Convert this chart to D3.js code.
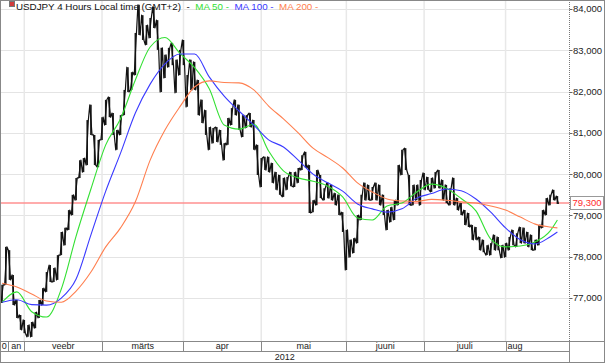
<!DOCTYPE html>
<html><head><meta charset="utf-8">
<script src="https://cdn.jsdelivr.net/npm/d3@7"></script>
<style>body{margin:0;background:#fff}svg{display:block}text{font-family:"Liberation Sans",Arial,sans-serif}</style>
</head><body><svg id="c" width="605" height="363"></svg>
<script>
// ---- data ----
const monthLabels = ["0","an","veebr","märts","apr","mai","juuni","juuli","aug"];
const monthStart  = [-6.56,-4.27,0,21,43,64,87,108,130]; // trading-day index
const axisEnd = 147.27;
const yearLabel = "2012";
const yTicks = [77,78,79,80,81,82,83,84];
const lastPrice = 79.3;
const firstDay = -6;
const priceHigh = [77.32,78.24,78.16,77.56,76.95,76.59,76.47,76.35,76.42,76.66,76.95,77.24,77.63,77.80,77.73,78.04,78.60,78.70,79.13,79.50,79.91,80.34,80.39,81.31,81.68,80.95,80.83,81.38,81.80,81.87,81.48,81.07,81.43,82.04,82.59,82.47,83.42,84.10,83.85,83.61,83.78,84.05,83.73,83.06,82.89,83.06,83.18,82.77,83.01,83.25,82.40,82.77,82.72,82.28,81.80,81.55,81.14,81.12,81.14,81.07,80.75,81.36,81.60,81.80,81.68,81.43,81.43,81.48,81.31,80.71,80.39,80.42,80.42,80.27,80.05,79.98,79.91,79.93,80.05,80.05,80.15,80.46,80.54,80.22,79.37,80.10,79.98,79.66,79.79,79.74,79.54,79.50,79.08,78.65,78.41,78.45,79.01,79.50,79.79,79.74,79.69,79.79,79.74,79.50,79.13,79.20,79.37,80.22,80.59,80.63,79.98,79.74,79.74,79.86,80.03,79.93,79.91,80.05,80.10,79.86,79.74,79.66,79.91,79.42,79.30,79.13,79.06,78.77,78.72,78.48,78.41,78.28,78.33,78.53,78.48,78.28,78.33,78.48,78.65,78.57,78.72,78.70,78.60,78.53,78.41,78.77,79.13,79.42,79.50,79.62,79.47];
const priceLow  = [76.88,77.32,77.44,76.83,76.52,76.23,76.15,76.06,76.06,76.27,76.52,76.83,77.15,77.39,77.39,77.44,78.04,78.28,78.65,79.01,79.37,79.91,80.05,80.22,80.95,80.22,80.17,80.83,81.19,81.38,80.95,80.59,80.95,81.43,81.99,82.04,82.40,83.37,83.25,83.13,83.30,83.54,83.01,81.99,82.33,82.59,82.64,81.97,82.40,82.64,81.63,82.04,82.04,81.43,81.24,80.95,80.59,80.75,80.78,80.71,80.34,80.71,81.19,81.43,81.07,80.90,81.12,81.14,80.59,79.98,79.69,80.10,80.05,79.79,79.62,79.50,79.45,79.62,79.71,79.69,79.79,80.10,80.15,79.06,79.08,79.25,79.42,79.37,79.42,79.37,79.25,79.01,78.60,77.68,77.99,78.09,78.33,78.89,79.37,79.37,79.37,79.37,79.25,79.01,78.65,78.84,78.89,79.25,79.98,80.10,79.25,79.25,79.37,79.25,79.62,79.62,79.57,79.66,79.66,79.37,79.30,79.25,79.25,79.13,79.01,78.77,78.72,78.41,78.41,78.16,78.11,78.04,78.04,78.16,78.16,77.97,77.99,78.16,78.28,78.24,78.33,78.33,78.24,78.16,78.16,78.28,78.70,79.01,79.25,79.37,79.28];
const maDays = [-6,-2,2,6,10,14,18,22,26,30,34,38,42,46,50,54,58,62,66,70,74,78,82,86,90,94,98,102,106,110,114,118,122,126,130,134,138,142,144];
const ma50  = [76.90,77.15,76.67,76.54,77.22,78.50,79.64,80.71,81.34,82.28,83.08,83.31,82.93,82.58,82.06,81.19,81.09,81.21,80.56,80.08,79.91,79.83,79.71,79.45,78.94,78.89,79.23,79.30,79.57,79.76,79.66,79.41,79.11,78.43,78.24,78.26,78.36,78.62,78.89];
const ma100 = [76.90,76.96,76.84,76.83,77.00,77.46,78.53,79.59,80.51,81.48,82.18,82.67,82.91,82.91,82.35,81.89,81.53,81.19,80.83,80.66,80.34,80.00,79.79,79.59,79.28,79.16,79.08,79.16,79.42,79.53,79.64,79.60,79.40,79.08,78.70,78.41,78.31,78.48,78.60];
const ma200 = [77.36,77.27,77.10,76.93,76.90,77.17,77.63,78.24,78.70,79.33,80.34,81.07,81.63,82.11,82.26,82.22,82.21,82.04,81.65,81.34,81.00,80.63,80.40,80.15,79.79,79.57,79.40,79.35,79.34,79.39,79.37,79.33,79.30,79.23,79.13,78.96,78.79,78.72,78.70];
const legendTitle = "USDJPY 4 Hours Local time (GMT+2)";
const maNames = ["MA 50","MA 100","MA 200"];

// ---- layout ----
const W = 605, H = 363, plotR = 569.5, plotB = 341, rowB = 351.5;
const svg = d3.select("#c");
const x = d3.scaleLinear().domain([monthStart[0], axisEnd]).range([0, plotR]);
const y = d3.scaleLinear().domain([75.96, 84.218]).range([plotB, 0]);
const loc = d3.formatLocale({decimal:",", thousands:" ", grouping:[3], currency:["",""]});
const fmt = loc.format(".3f");
const maColors = ["#33e033","#3a3aff","#ff7f4f"];

svg.append("rect").attr("width",W).attr("height",H).attr("fill","#fff");

// grid
svg.append("g").selectAll("line").data(yTicks).join("line")
  .attr("x1",0).attr("x2",plotR).attr("y1",d=>Math.round(y(d))+0.5).attr("y2",d=>Math.round(y(d))+0.5)
  .attr("stroke","#e4e4e4").attr("stroke-width",1);
svg.append("g").selectAll("line").data(monthStart.slice(2)).join("line")
  .attr("x1",d=>x(d)).attr("x2",d=>x(d)).attr("y1",0).attr("y2",plotB)
  .attr("stroke","#e8e8e8").attr("stroke-width",1.5);

// last price line
svg.append("line").attr("x1",0).attr("x2",plotR).attr("y1",y(lastPrice)).attr("y2",y(lastPrice))
  .attr("stroke","#ff9090").attr("stroke-width",1.5);

// price: daily high-low bars plus zigzag
const days = priceHigh.map((h,i)=>firstDay+i);
svg.append("g").selectAll("line").data(days).join("line")
  .attr("x1",d=>x(d)).attr("x2",d=>x(d))
  .attr("y1",(d,i)=>y(priceHigh[i])).attr("y2",(d,i)=>y(priceLow[i]))
  .attr("stroke","#1a1a1a").attr("stroke-width",1.6);
const mid = i => (priceHigh[i]+priceLow[i])/2;
const pts = [];
priceHigh.forEach((h,i)=>{
  const d = firstDay + i;
  const rising = i < priceHigh.length-1 ? mid(i+1) >= mid(i) : mid(i) >= mid(i-1);
  const a = rising ? priceLow[i] : h, b = rising ? h : priceLow[i];
  pts.push([d-0.3,a],[d+0.3,b]);
});
svg.append("path").attr("d", d3.line().x(p=>x(p[0])).y(p=>y(p[1]))(pts))
  .attr("fill","none").attr("stroke","#111").attr("stroke-width",1.2).attr("stroke-linejoin","round");

// moving averages
[ma50, ma100, ma200].forEach((arr,k)=>{
  svg.append("path")
    .attr("d", d3.line().curve(d3.curveMonotoneX).x((v,i)=>x(maDays[i])).y(v=>y(v))(arr))
    .attr("fill","none").attr("stroke",maColors[k]).attr("stroke-width",1.1);
});

// right axis
svg.append("line").attr("x1",plotR).attr("x2",plotR).attr("y1",0).attr("y2",H)
  .attr("stroke","#777").attr("stroke-dasharray","1,1");
const ax = svg.append("g");
ax.selectAll("line").data(yTicks).join("line")
  .attr("x1",plotR).attr("x2",plotR+3).attr("y1",d=>Math.round(y(d))+0.5).attr("y2",d=>Math.round(y(d))+0.5)
  .attr("stroke","#666");
ax.selectAll("text").data(yTicks).join("text")
  .attr("x",573).attr("y",d=>y(d)).attr("dy","0.35em")
  .attr("font-size",9.5).attr("fill","#222").text(d=>fmt(d));
// last price box
const ly = y(lastPrice);
svg.append("rect").attr("x",570.5).attr("y",Math.round(ly)-6.5).attr("width",33).attr("height",13)
  .attr("fill","#fff").attr("stroke","#999");
svg.append("text").attr("x",572.5).attr("y",ly).attr("dy","0.35em").attr("font-size",9.5)
  .attr("fill","#ff2a2a").text(fmt(lastPrice));

// bottom band
const band = svg.append("g");
band.append("rect").attr("x",0).attr("y",plotB).attr("width",W).attr("height",H-plotB).attr("fill","#fff");
band.append("line").attr("x1",0).attr("x2",W).attr("y1",plotB+0.5).attr("y2",plotB+0.5).attr("stroke","#888");
band.append("line").attr("x1",0).attr("x2",plotR).attr("y1",rowB).attr("y2",rowB).attr("stroke","#888");
band.append("line").attr("x1",plotR).attr("x2",plotR).attr("y1",plotB).attr("y2",H).attr("stroke","#888");
band.selectAll(".sep").data(monthStart.slice(1)).join("line").attr("class","sep")
  .attr("x1",d=>Math.round(x(d))+0.5).attr("x2",d=>Math.round(x(d))+0.5).attr("y1",plotB).attr("y2",rowB)
  .attr("stroke","#888");
band.selectAll(".ml").data(monthLabels).join("text").attr("class","ml")
  .attr("x",(d,i)=>{const a=x(monthStart[i]), b=x(i+1<monthStart.length?monthStart[i+1]:axisEnd);
     return i===monthLabels.length-1 ? a+2 : (a+b)/2;})
  .attr("text-anchor",(d,i)=>i===monthLabels.length-1?"start":"middle")
  .attr("y",(plotB+rowB)/2).attr("dy","0.35em").attr("font-size",9).attr("fill","#222").text(d=>d);
band.append("text").attr("x",plotR/2).attr("y",(rowB+H)/2).attr("dy","0.35em")
  .attr("text-anchor","middle").attr("font-size",9).attr("fill","#222").text(yearLabel);

// frame
svg.append("rect").attr("x",0.5).attr("y",0.5).attr("width",W-1).attr("height",H-1)
  .attr("fill","none").attr("stroke","#888");

// legend
svg.append("rect").attr("x",9.5).attr("y",1.5).attr("width",5).attr("height",5)
  .attr("fill","#d23c3c").attr("stroke","#777");
const lg = svg.append("text").attr("x",16).attr("y",10).attr("font-size",9.8).attr("xml:space","preserve");
lg.append("tspan").attr("fill","#111").text(legendTitle+"  -  ");
maNames.forEach((n,k)=>lg.append("tspan").attr("fill",maColors[k]).text(n+" -  "));
</script></body></html>
